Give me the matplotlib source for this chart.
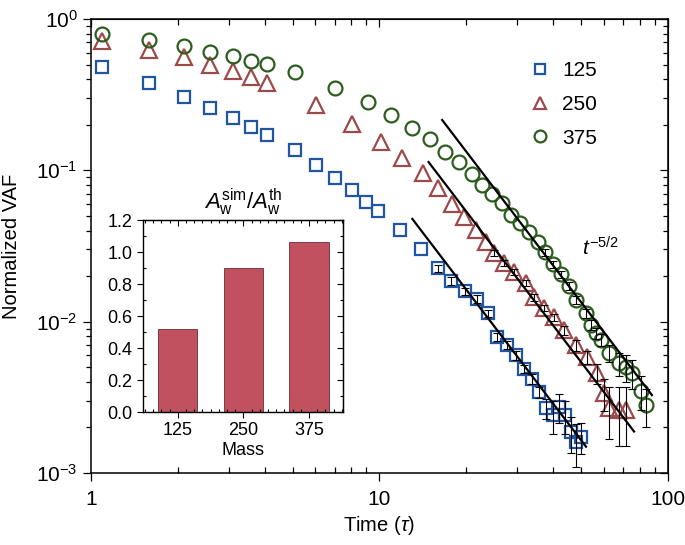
import numpy as np
import matplotlib
matplotlib.use('Agg')
import matplotlib.pyplot as plt
from matplotlib import ticker

plt.rcParams['font.family'] = ['Liberation Sans', 'DejaVu Sans']
plt.rcParams['mathtext.fontset'] = 'custom'
plt.rcParams['mathtext.rm'] = 'Liberation Sans'
plt.rcParams['mathtext.it'] = 'Liberation Sans:italic'
plt.rcParams['mathtext.bf'] = 'Liberation Sans:bold'

# ----- data -----
t125 = [1.09, 1.59, 2.10, 2.58, 3.10, 3.58, 4.06, 5.08, 6.05, 7.04, 8.05, 9.0, 9.9,
        11.8, 13.9, 15.9, 17.7, 19.8, 21.8, 23.8, 25.6, 27.7, 29.8, 31.7, 33.8,
        35.8, 37.8, 40.0, 42.0, 44.0, 46.0, 48.0, 50.0]
v125 = [0.482, 0.378, 0.305, 0.258, 0.222, 0.193, 0.171, 0.136, 0.108, 0.0889,
        0.0741, 0.0617, 0.0538, 0.0403, 0.0302, 0.0226, 0.0186, 0.0159, 0.0141,
        0.0114, 0.0079, 0.0070, 0.0060, 0.00486, 0.00418, 0.00342, 0.00269,
        0.00241, 0.00273, 0.00241, 0.00186, 0.00160, 0.00173]
e125 = [0] * 15 + [0.0012, 0.0010, 0.0009, 0.0008, 0.0006, 0.0005, 0.0004, 0.0004,
                   0.0003, 0.0003, 0.0003, 0.0004, 0.0006, 0.0006, 0.0006, 0.0005,
                   0.0005, 0.0004]

t250 = [1.09, 1.59, 2.10, 2.58, 3.10, 3.58, 4.06, 6.05, 8.05, 10.1, 12.0, 14.1,
        15.9, 17.9, 19.7, 21.6, 23.4, 25.0, 27.0, 29.3, 32.1, 34.4, 37.2, 40.2,
        43.6, 48.0, 52.6, 56.9, 60.2, 62.6, 67.7, 71.6]
v250 = [0.715, 0.624, 0.561, 0.497, 0.453, 0.414, 0.378, 0.270, 0.202, 0.154,
        0.121, 0.0960, 0.0764, 0.0599, 0.0491, 0.0403, 0.0336, 0.0284, 0.0244,
        0.0213, 0.0180, 0.0145, 0.0123, 0.0107, 0.0088, 0.0070, 0.00583, 0.00457,
        0.00337, 0.00269, 0.00260, 0.00260]
e250 = [0] * 17 + [0.0012, 0.0010, 0.0009, 0.0008, 0.0007, 0.0006, 0.0006, 0.0006,
                   0.0006, 0.0006, 0.0007, 0.0008, 0.0010, 0.0011, 0.0011]

t375 = [1.09, 1.59, 2.10, 2.58, 3.10, 3.58, 4.06, 5.08, 7.04, 9.1, 11.0, 13.0,
        15.0, 16.9, 18.9, 21.0, 22.6, 24.5, 26.6, 28.6, 30.7, 33.0, 35.5, 37.5,
        40.0, 42.6, 45.4, 48.1, 52.0, 54.2, 56.4, 58.7, 62.5, 67.7, 71.6, 75.0,
        80.7, 84.0]
v375 = [0.796, 0.726, 0.663, 0.605, 0.569, 0.528, 0.504, 0.446, 0.350, 0.283,
        0.232, 0.190, 0.161, 0.132, 0.1135, 0.0945, 0.0799, 0.0697, 0.0608, 0.0507,
        0.0448, 0.0391, 0.0336, 0.0288, 0.0240, 0.0206, 0.0172, 0.0139, 0.0114,
        0.0095, 0.0084, 0.0076, 0.0062, 0.0053, 0.0050, 0.0046, 0.0035, 0.0028]
e375 = [0] * 23 + [0.0015, 0.0013, 0.0011, 0.0010, 0.0009, 0.0008, 0.0007, 0.0007,
                   0.0007, 0.0008, 0.0009, 0.0010, 0.0010, 0.0009, 0.0008]

# t^-5/2 guide lines: amplitude, start, end
fit_amp = [29.1, 95.6, 237.8]
fit_t0 = [13.0, 14.8, 16.5]
fit_t1 = [52.0, 76.3, 88.0]

masses = ['125', '250', '375']
ratio = [0.52, 0.90, 1.06]

series = [
    (t125, v125, e125, 's', '#1f55a3', 9, '125'),
    (t250, v250, e250, '^', '#9c4a4c', 11, '250'),
    (t375, v375, e375, 'o', '#2c5d1e', 10, '375'),
]

fig = plt.figure(figsize=(6.85, 5.45), dpi=100)
ax = fig.add_axes([0.1328, 0.1321, 0.8423, 0.833])

for (t, v, e, m, c, ms, lab) in series:
    ax.plot(t, v, ls='none', marker=m, ms=ms, mfc='none', mec=c, mew=1.6,
            label=lab, zorder=3)
    t = np.array(t); v = np.array(v); e = np.array(e, float)
    k = e > 0
    ax.errorbar(t[k], v[k], yerr=e[k], fmt='none', ecolor='k', elinewidth=0.8,
                capsize=3, capthick=0.8, zorder=4)

for a, t0, t1 in zip(fit_amp, fit_t0, fit_t1):
    tt = np.array([t0, t1])
    ax.plot(tt, a * tt ** -2.5, color='k', lw=1.6, zorder=5)

ax.text(0.851, 0.496, r'$t^{-5/2}$', transform=ax.transAxes, fontsize=15,
        ha='left', va='center')

ax.set_xscale('log'); ax.set_yscale('log')
ax.set_xlim(1, 100); ax.set_ylim(1e-3, 1)
ax.set_xticks([1, 10, 100], labels=['1', '10', '100'])
ax.set_xlabel(r'Time ($\tau$)', fontsize=14.5, labelpad=4)
ax.set_ylabel('Normalized VAF', fontsize=14.5, labelpad=11)
ax.tick_params(labelsize=15)
ax.tick_params(axis='x', which='major', direction='out', length=6, width=0.9, pad=6)
ax.tick_params(axis='x', which='minor', direction='in', length=4, width=0.9)
ax.tick_params(axis='y', which='major', direction='out', length=6, width=0.9)
ax.tick_params(axis='y', which='minor', direction='out', length=3.5, width=0.9)
for s in ax.spines.values():
    s.set_linewidth(1.1)

top = ax.secondary_xaxis('top')
top.tick_params(which='major', direction='in', length=6, width=0.9, labeltop=False)
top.tick_params(which='minor', direction='in', length=4, width=0.9)
top.set_xticks([1, 10, 100], labels=['', '', ''])
right = ax.secondary_yaxis('right')
right.tick_params(which='major', direction='in', length=6, width=0.9, labelright=False)
right.tick_params(which='minor', direction='in', length=3.5, width=0.9)

leg = ax.legend(loc='upper left', bbox_to_anchor=(0.745, 0.925), frameon=False,
                fontsize=15, markerscale=0.85, handlelength=1.0, handletextpad=0.6,
                labelspacing=0.7, borderaxespad=0)

# ----- inset bar chart -----
ins = fig.add_axes([0.2088, 0.2440, 0.292, 0.3523])
x = np.arange(len(masses))
ins.bar(x, ratio, width=0.6, color='#c1515f', edgecolor='#6e2a36', linewidth=0.6)
ins.set_xlim(-0.53, 2.52)
ins.set_ylim(0, 1.2)
ins.set_xticks(x, labels=masses)
ins.set_yticks(np.arange(0, 1.21, 0.2))
ins.yaxis.set_major_formatter(ticker.FormatStrFormatter('%.1f'))
ins.xaxis.set_minor_locator(ticker.AutoMinorLocator(8))
ins.yaxis.set_minor_locator(ticker.AutoMinorLocator(2))
ins.tick_params(labelsize=13)
ins.tick_params(which='major', direction='out', length=4, width=0.8)
ins.tick_params(which='minor', direction='in', length=2.5, width=0.8)
ins.set_xlabel('Mass', fontsize=13, labelpad=2)
ins.set_title(r'$A_{\mathrm{w}}^{\mathrm{sim}}/A_{\mathrm{w}}^{\mathrm{th}}$',
              fontsize=16, pad=8)
for s in ins.spines.values():
    s.set_linewidth(1.0)
itop = ins.secondary_xaxis('top')
itop.set_xticks(x, labels=['', '', ''])
itop.xaxis.set_minor_locator(ticker.AutoMinorLocator(8))
itop.tick_params(which='major', direction='in', length=4, width=0.8)
itop.tick_params(which='minor', direction='in', length=2.5, width=0.8)
iright = ins.secondary_yaxis('right')
iright.set_yticks(np.arange(0, 1.21, 0.2), labels=[''] * 7)
iright.yaxis.set_minor_locator(ticker.AutoMinorLocator(2))
iright.tick_params(which='major', direction='in', length=4, width=0.8)
iright.tick_params(which='minor', direction='in', length=2.5, width=0.8)

fig.savefig('out.png', dpi=100)
